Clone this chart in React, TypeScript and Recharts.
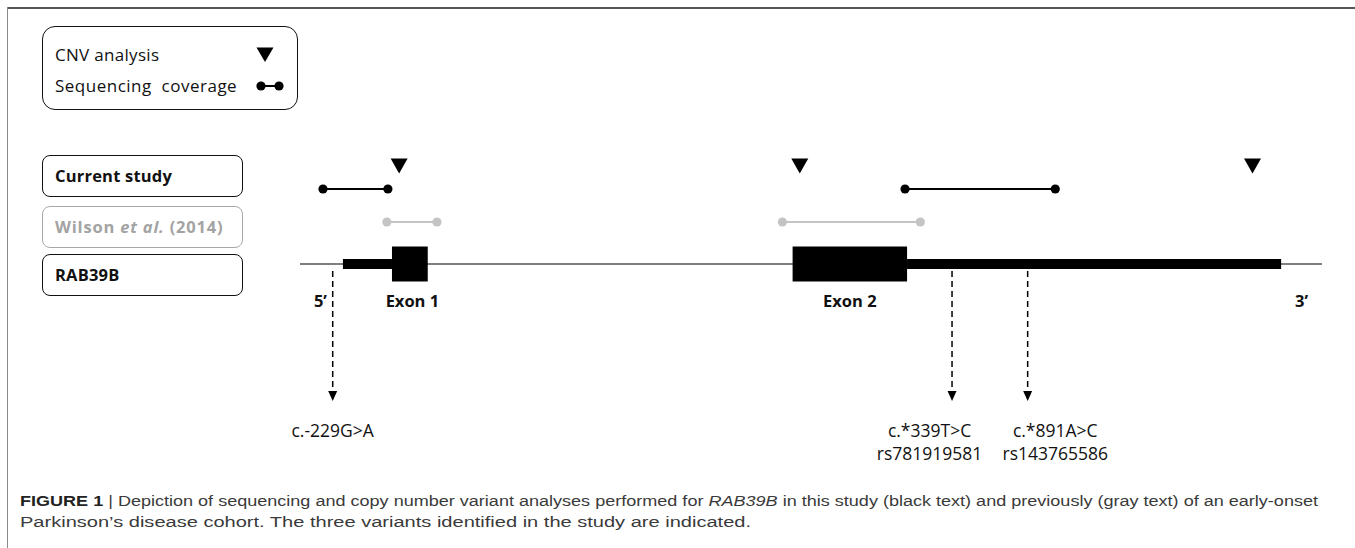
import React from 'react';
import { ComposedChart, XAxis, YAxis, Scatter, ReferenceLine, ReferenceArea } from 'recharts';

// x = position along the drawn RAB39B locus (0-100, schematic), y = track height
const GENE_Y = 25.6;
const CNV_Y = 35.4;
const CURRENT_Y = 33.1;
const WILSON_Y = 29.8;
const FEATURE_LABEL_Y = 22.0;
const ARROW_START_Y = 24.9;
const ARROW_TIP_Y = 11.9;
const HGVS_Y = 9.0;
const RSID_Y = 6.7;

const geneSpan = [0, 100];
const utrBlocks = [
  { name: "5' UTR", start: 4.2, end: 9.0 },
  { name: "3' UTR", start: 59.4, end: 96.0 },
];
const exonBlocks = [
  { name: 'Exon 1', start: 9.0, end: 12.5 },
  { name: 'Exon 2', start: 48.2, end: 59.4 },
];
const cnvProbes = [9.7, 48.9, 93.2];
const currentCoverage = [
  [2.25, 8.6],
  [59.2, 73.9],
];
const wilsonCoverage = [
  [8.5, 13.4],
  [47.2, 60.7],
];
const featureLabels = [
  { x: 2.0, text: '5’' },
  { x: 11.0, text: 'Exon 1' },
  { x: 53.8, text: 'Exon 2' },
  { x: 98.0, text: '3’' },
];
const variants = [
  { pos: 3.2, labelPos: 3.2, hgvs: 'c.-229G>A', rsid: '' },
  { pos: 63.8, labelPos: 61.6, hgvs: 'c.*339T>C', rsid: 'rs781919581' },
  { pos: 71.2, labelPos: 73.9, hgvs: 'c.*891A>C', rsid: 'rs143765586' },
];

const trackBoxes = [
  { label: 'Current study', top: 155, color: '#111', border: '#111' },
  { label: 'Wilson', top: 206, color: '#a3a3a3', border: '#a8a8a8' },
  { label: 'RAB39B', top: 254, color: '#111', border: '#111' },
];

const FONT = '"Open Sans", sans-serif';

const triangleDown = (props: any) => (
  <path
    d={`M${props.cx - 8.5},${props.cy - 7.5} L${props.cx + 8.5},${props.cy - 7.5} L${props.cx},${props.cy + 7.5} Z`}
    fill="#000"
  />
);

const arrowHead = (props: any) => (
  <path d={`M${props.cx - 4.5},${props.cy - 10} L${props.cx + 4.5},${props.cy - 10} L${props.cx},${props.cy} Z`} fill="#000" />
);

const dot = (color: string) => (props: any) => <circle cx={props.cx} cy={props.cy} r={4.6} fill={color} />;

const textShape = (size: number, weight: number) => (props: any) => (
  <text
    x={props.cx}
    y={props.cy}
    textAnchor="middle"
    dominantBaseline="central"
    fontFamily={FONT}
    fontSize={size}
    fontWeight={weight}
    fill="#111"
  >
    {props.payload.text}
  </text>
);

export default function App() {
  const labelData = featureLabels.map((l) => ({ x: l.x, y: FEATURE_LABEL_Y, text: l.text }));
  const hgvsData = variants.map((v) => ({ x: v.labelPos, y: HGVS_Y, text: v.hgvs }));
  const rsData = variants.filter((v) => v.rsid).map((v) => ({ x: v.labelPos, y: RSID_Y, text: v.rsid }));
  const tipData = variants.map((v) => ({ x: v.pos, y: ARROW_TIP_Y }));

  return (
    <div
      style={{
        position: 'absolute',
        left: 0,
        top: 0,
        width: 1355,
        height: 548,
        background: '#fff',
        overflow: 'hidden',
        fontFamily: FONT,
      }}
    >
      {/* figure frame */}
      <div style={{ position: 'absolute', left: 7, top: 7, width: 1348, height: 2, background: '#555' }} />
      <div style={{ position: 'absolute', left: 7, top: 7, width: 1, height: 541, background: '#8a8a8a' }} />

      {/* key */}
      <div
        style={{
          position: 'absolute',
          left: 42,
          top: 26,
          width: 256,
          height: 84,
          boxSizing: 'border-box',
          border: '1.5px solid #111',
          borderRadius: 13,
        }}
      />
      <div style={{ position: 'absolute', left: 55, top: 43, lineHeight: '24px', fontSize: 17, letterSpacing: 0.3, color: '#111' }}>
        CNV analysis
      </div>
      <div
        style={{
          position: 'absolute',
          left: 55,
          top: 74,
          lineHeight: '24px',
          fontSize: 17,
          letterSpacing: 0.5,
          color: '#111',
          whiteSpace: 'pre',
        }}
      >
        {'Sequencing  coverage'}
      </div>
      <svg style={{ position: 'absolute', left: 250, top: 44 }} width={40} height={52}>
        <path d="M6.5,3.5 L23.5,3.5 L15,18 Z" fill="#000" />
        <line x1={11} y1={42} x2={29} y2={42} stroke="#000" strokeWidth={2} />
        <circle cx={11} cy={42} r={4.6} fill="#000" />
        <circle cx={29} cy={42} r={4.6} fill="#000" />
      </svg>

      {/* track boxes */}
      {trackBoxes.map((b) => (
        <div
          key={b.label}
          style={{
            position: 'absolute',
            left: 42,
            top: b.top,
            width: 201,
            height: 42,
            boxSizing: 'border-box',
            border: `1.3px solid ${b.border}`,
            borderRadius: 8,
            paddingLeft: 12,
            lineHeight: '40px',
            fontSize: 16.5,
            fontWeight: 700,
            letterSpacing: b.label === 'Wilson' ? 0.8 : 0.2,
            color: b.color,
            whiteSpace: 'nowrap',
          }}
        >
          {b.label === 'Wilson' ? (
            <>
              Wilson <i>et al.</i> (2014)
            </>
          ) : (
            b.label
          )}
        </div>
      ))}

      {/* gene diagram */}
      <div style={{ position: 'absolute', left: 260, top: 130 }}>
        <ComposedChart width={1100} height={400} margin={{ top: 10, right: 38, bottom: 10, left: 40 }}>
          <XAxis type="number" dataKey="x" domain={geneSpan} hide />
          <YAxis type="number" dataKey="y" domain={[0, 38]} hide />

          <ReferenceArea
            x1={geneSpan[0]}
            x2={geneSpan[1]}
            y1={GENE_Y - 0.075}
            y2={GENE_Y + 0.075}
            fill="#555"
            fillOpacity={1}
            stroke="none"
          />
          {utrBlocks.map((u) => (
            <ReferenceArea
              key={u.name}
              x1={u.start}
              x2={u.end}
              y1={GENE_Y - 0.5}
              y2={GENE_Y + 0.5}
              fill="#000"
              fillOpacity={1}
              stroke="none"
            />
          ))}
          {exonBlocks.map((e) => (
            <ReferenceArea
              key={e.name}
              x1={e.start}
              x2={e.end}
              y1={GENE_Y - 1.75}
              y2={GENE_Y + 1.75}
              fill="#000"
              fillOpacity={1}
              stroke="none"
            />
          ))}

          {variants.map((v) => (
            <ReferenceLine
              key={v.hgvs}
              segment={[
                { x: v.pos, y: ARROW_START_Y },
                { x: v.pos, y: ARROW_TIP_Y + 1 },
              ]}
              stroke="#000"
              strokeWidth={1.5}
              strokeDasharray="6 4"
            />
          ))}

          {currentCoverage.map((c, i) => (
            <Scatter
              key={`cur-${i}`}
              data={[
                { x: c[0], y: CURRENT_Y },
                { x: c[1], y: CURRENT_Y },
              ]}
              line={{ stroke: '#000', strokeWidth: 2 }}
              shape={dot('#000')}
              isAnimationActive={false}
            />
          ))}
          {wilsonCoverage.map((c, i) => (
            <Scatter
              key={`wil-${i}`}
              data={[
                { x: c[0], y: WILSON_Y },
                { x: c[1], y: WILSON_Y },
              ]}
              line={{ stroke: '#c4c4c4', strokeWidth: 2 }}
              shape={dot('#c4c4c4')}
              isAnimationActive={false}
            />
          ))}

          <Scatter data={cnvProbes.map((x) => ({ x, y: CNV_Y }))} shape={triangleDown} isAnimationActive={false} />
          <Scatter data={tipData} shape={arrowHead} isAnimationActive={false} />
          <Scatter data={labelData} shape={textShape(16.5, 700)} isAnimationActive={false} />
          <Scatter data={hgvsData} shape={textShape(17.5, 400)} isAnimationActive={false} />
          <Scatter data={rsData} shape={textShape(17.5, 400)} isAnimationActive={false} />
        </ComposedChart>
      </div>

      {/* caption */}
      <svg style={{ position: 'absolute', left: 0, top: 484 }} width={1355} height={64}>
        <text
          x={20}
          y={22}
          fontFamily='"Liberation Sans", Arial, sans-serif'
          fontSize={15.5}
          fill="#3a3a3a"
          textLength={1298}
          lengthAdjust="spacingAndGlyphs"
        >
          <tspan fontWeight={700} fill="#222">FIGURE 1</tspan>
          <tspan> | Depiction of sequencing and copy number variant analyses performed for </tspan>
          <tspan fontStyle="italic">RAB39B</tspan>
          <tspan> in this study (black text) and previously (gray text) of an early-onset</tspan>
        </text>
        <text
          x={20}
          y={43}
          fontFamily='"Liberation Sans", Arial, sans-serif'
          fontSize={15.5}
          fill="#3a3a3a"
          textLength={731}
          lengthAdjust="spacingAndGlyphs"
        >
          Parkinson’s disease cohort. The three variants identified in the study are indicated.
        </text>
      </svg>
    </div>
  );
}
